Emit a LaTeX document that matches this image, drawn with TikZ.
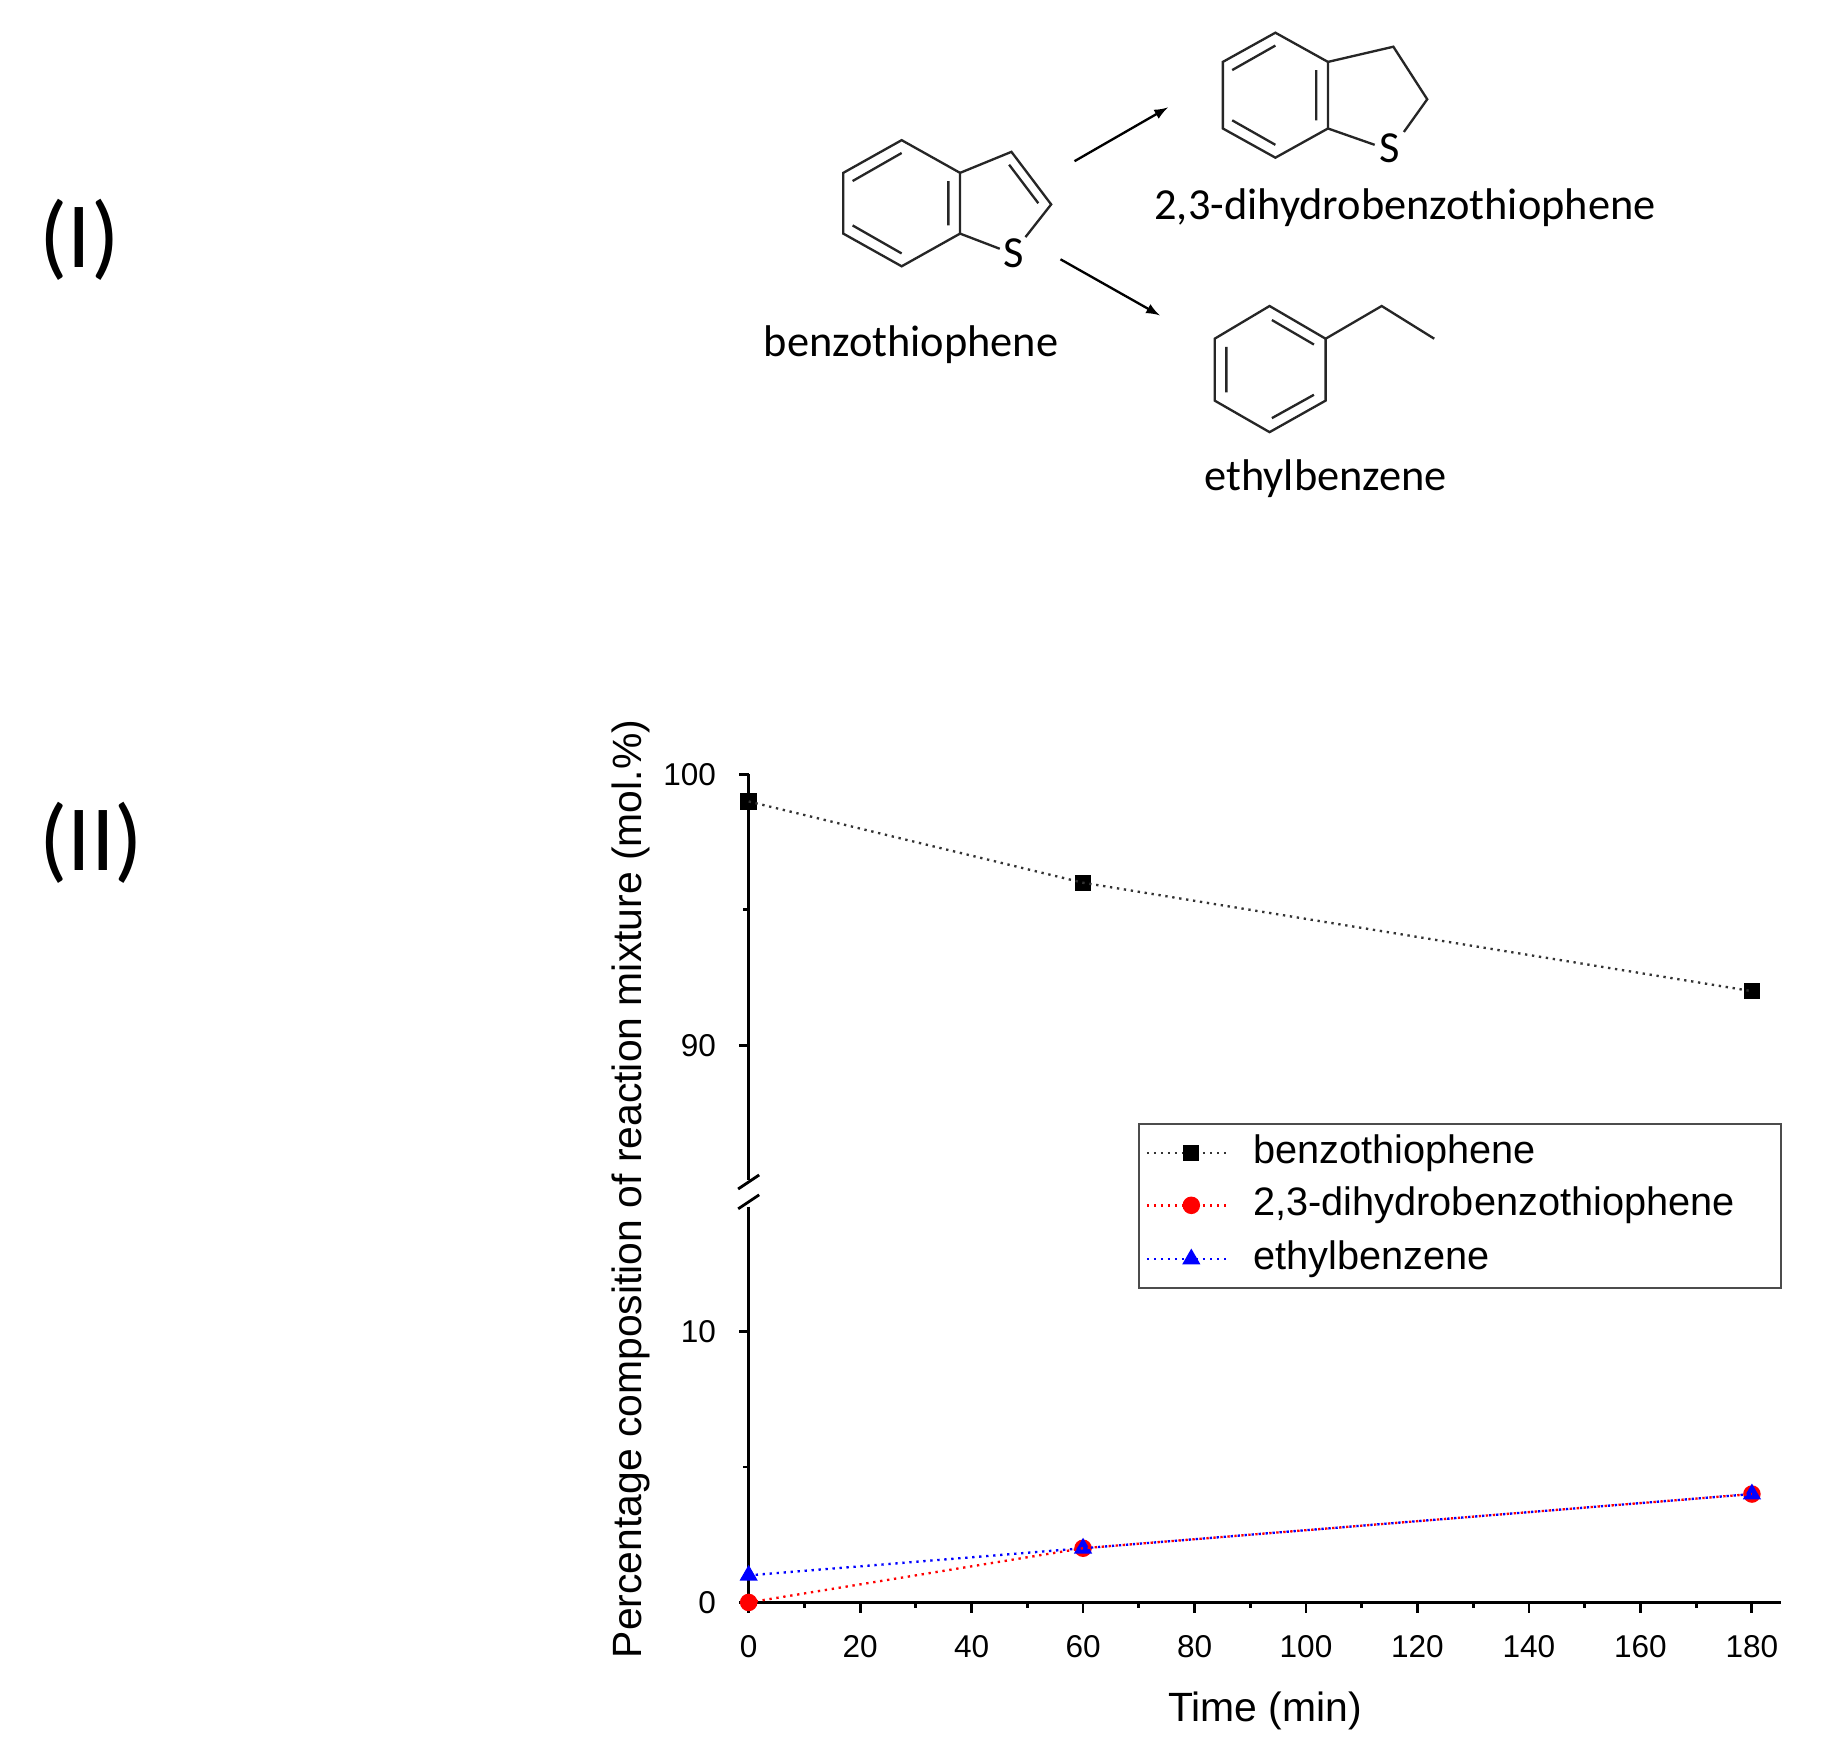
\documentclass[tikz,border=0pt]{standalone}
\usepackage{fontspec}
\newfontfamily\chem{Carlito}
\newfontfamily\plotf{Liberation Sans}
\usetikzlibrary{shapes.geometric}
\begin{document}
\begin{tikzpicture}[x=0.5pt,y=-0.5pt,
  bond/.style={line width=1pt,black!85},
  rxn/.style={line width=1pt,-latex},
  chemlbl/.style={font=\chem\fontsize{19}{19}\selectfont},
  roman/.style={font=\chem\fontsize{40}{40}\selectfont},
  tick/.style={font=\plotf\fontsize{13.5}{13.5}\selectfont},
  axisl/.style={line width=1.2pt},
  sq/.style={rectangle,fill=black,inner sep=0,minimum size=7pt},
  ci/.style={circle,fill=red,inner sep=0,minimum size=7.5pt},
  tri/.style={regular polygon,regular polygon sides=3,fill=blue,inner sep=0,minimum size=9pt},
  dotl/.style={line width=1pt,dotted}]
\useasboundingbox (0,0) rectangle (1560,1495);
\node[roman] (r1) at (68,205) {(I)};
\node[roman] (r2) at (78,722) {(II)};
% benzothiophene
\draw[bond] (772,120)--(822,148)--(822,200)--(772,228)--(722,200)--(722,148)--cycle;
\draw[bond] (730,155)--(772,131) (730,193)--(772,217) (812,155)--(812,193);
\draw[bond] (822,148)--(866,130)--(900,175)--(878,203);
\draw[bond] (822,200)--(856,213);
\draw[bond] (864,141)--(889,174);
\node[chemlbl] (s1) at (868,217) {S};
\node[chemlbl] (bt) at (780,295) {benzothiophene};
% dihydro
\draw[bond] (1092,28)--(1137,53)--(1137,110)--(1092,135)--(1047,110)--(1047,53)--cycle;
\draw[bond] (1055,60)--(1092,39) (1055,103)--(1092,124) (1127,60)--(1127,103);
\draw[bond] (1137,53)--(1193,40)--(1222,85)--(1202,113);
\draw[bond] (1137,110)--(1177,124);
\node[chemlbl] (s2) at (1190,127) {S};
\node[chemlbl] (dh) at (1203,178) {2,3-dihydrobenzothiophene};
% ethylbenzene
\draw[bond] (1087,262)--(1135,290)--(1135,343)--(1087,370)--(1040,343)--(1040,290)--cycle;
\draw[bond] (1089,274)--(1125,295) (1050,297)--(1050,336) (1089,358)--(1125,338);
\draw[bond] (1135,290)--(1183,262)--(1228,290);
\node[chemlbl] (eb) at (1135,410) {ethylbenzene};
\coordinate (a1s) at (920,138); \coordinate (a1e) at (1000,92);
\coordinate (a2s) at (908,222); \coordinate (a2e) at (993,270);
\draw[rxn] (a1s)--(a1e);
\draw[rxn] (a2s)--(a2e);
% axes
\draw[axisl] (641,663)--(641,1010) (641,1033)--(641,1372)--(1525,1372);
\draw[axisl] (632,1018)--(650,1006) (632,1035)--(650,1023);
\foreach \y/\l in {663/100,895/90,1140/10,1372/0}{
  \draw[axisl] (641,\y)--(633,\y);
  \node[tick,anchor=east] at (620,\y) {\l};}
\foreach \y in {779,1256} \draw[axisl] (641,\y)--(636,\y);
\foreach \i in {0,...,9}{
  \pgfmathsetmacro\xx{641+95.44*\i}
  \draw[axisl] (\xx,1372)--(\xx,1381);
  \pgfmathtruncatemacro\lab{20*\i}
  \node[tick] at (\xx,1410) {\lab};}
\foreach \i in {0,...,8}{
  \pgfmathsetmacro\xx{641+47.72+95.44*\i}
  \draw[axisl] (\xx,1372)--(\xx,1377);}
\node[font=\plotf\fontsize{17.5}{17.5}\selectfont] (xt) at (1083,1465) {Time (min)};
\node[font=\plotf\fontsize{17.5}{17.5}\selectfont,rotate=90] (yt) at (540,1018) {Percentage composition of reaction mixture (mol.\%)};
% data
\node[sq] (b0) at (641,686.2) {}; \node[sq] (b1) at (927.3,755.8) {}; \node[sq] (b2) at (1500,848.6) {};
\draw[dotl,black!80] (b0.center)--(b1.center)--(b2.center);
\node[ci] (d0) at (641,1372) {}; \node[ci] (d1) at (927.3,1325.6) {}; \node[ci] (d2) at (1500,1279.2) {};
\node[tri] (e0) at (641,1348.8) {}; \node[tri] (e1) at (927.3,1325.6) {}; \node[tri] (e2) at (1500,1279.2) {};
\draw[dotl,red] (d0.center)--(d1.center)--(d2.center);
\draw[dotl,blue] (e0.center)--(e1.center)--(e2.center);
% legend
\draw[line width=0.8pt,black!70] (975,962) rectangle (1525,1103);
\foreach \y/\c/\s/\t in {987/black!80/sq/{benzothiophene},1032/red/ci/{2,3-dihydrobenzothiophene},1078/blue/tri/{ethylbenzene}}{
  \draw[dotl,\c] (982,\y)--(1050,\y);
  \node[\s] at (1020,\y) {};
  \node[anchor=west,font=\plotf\fontsize{17}{17}\selectfont] at (1066,\y) {\t};}
\end{tikzpicture}
\end{document}
